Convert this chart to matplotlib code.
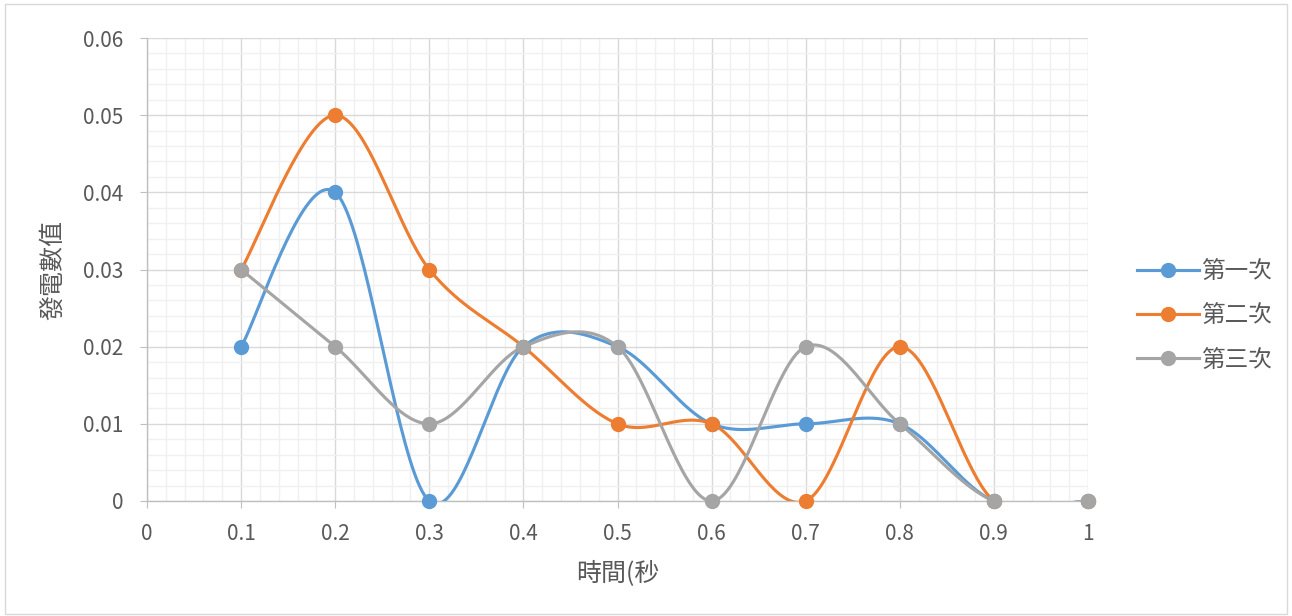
import matplotlib
matplotlib.use("Agg")
import matplotlib.pyplot as plt
import numpy as np
from matplotlib.ticker import MultipleLocator, FuncFormatter

plt.rcParams['font.family'] = ['Noto Sans CJK TC', 'DejaVu Sans']

x = [0.1, 0.2, 0.3, 0.4, 0.5, 0.6, 0.7, 0.8, 0.9, 1.0]
first = [0.02, 0.04, 0.0, 0.02, 0.02, 0.01, 0.01, 0.01, 0.0, 0.0]
second = [0.03, 0.05, 0.03, 0.02, 0.01, 0.01, 0.0, 0.02, 0.0, 0.0]
third = [0.03, 0.02, 0.01, 0.02, 0.02, 0.0, 0.02, 0.01, 0.0, 0.0]
names = ['第一次', '第二次', '第三次']
colors = ['#5B9BD5', '#ED7D31', '#A5A5A5']


def smooth(xs, ys, n=40):
    # Excel-like smoothed line: cubic Bezier with Catmull-Rom control points
    p = np.column_stack([xs, ys])
    ext = np.vstack([p[0], p, p[-1]])
    out = []
    t = np.linspace(0, 1, n)[:, None]
    for i in range(1, len(ext) - 2):
        p0, p1, p2, p3 = ext[i - 1], ext[i], ext[i + 1], ext[i + 2]
        c1 = p1 + (p2 - p0) / 6
        c2 = p2 - (p3 - p1) / 6
        seg = ((1 - t) ** 3) * p1 + 3 * ((1 - t) ** 2) * t * c1 + 3 * (1 - t) * t ** 2 * c2 + t ** 3 * p2
        out.append(seg)
    out = np.vstack(out)
    return out[:, 0], out[:, 1]


fig = plt.figure(figsize=(12.92, 6.16), dpi=100)
ax = fig.add_axes([0.1138, 0.1867, 0.7283, 0.7516])

for ys, name, c in zip([first, second, third], names, colors):
    sx, sy = smooth(x, ys)
    ax.plot(sx, sy, color=c, lw=2.25, solid_capstyle='round', zorder=3)
    ax.plot(x, ys, 'o', color=c, ms=10, zorder=4, clip_on=False)
    ax.plot([], [], '-o', color=c, lw=2.25, ms=10, label=name)

ax.set_xlim(0, 1)
ax.set_ylim(0, 0.06)
ax.xaxis.set_major_locator(MultipleLocator(0.1))
ax.xaxis.set_minor_locator(MultipleLocator(0.02))
ax.yaxis.set_major_locator(MultipleLocator(0.01))
ax.yaxis.set_minor_locator(MultipleLocator(0.002))
fmt = FuncFormatter(lambda v, p: ('%g' % round(v, 4)))
ax.xaxis.set_major_formatter(fmt)
ax.yaxis.set_major_formatter(fmt)

ax.grid(which='minor', color='#F0F0F0', lw=1.0, zorder=0)
ax.grid(which='major', color='#D9D9D9', lw=1.0, zorder=1)
ax.set_axisbelow(True)
for s in ['top', 'right']:
    ax.spines[s].set_visible(False)
for s in ['left', 'bottom']:
    ax.spines[s].set_color('#BFBFBF')
    ax.spines[s].set_linewidth(1.0)
ax.tick_params(which='major', length=5, color='#BFBFBF', labelcolor='#595959',
               labelsize=15)
ax.tick_params(axis='x', pad=11)
ax.tick_params(axis='y', pad=12)
ax.tick_params(which='minor', length=0)

ax.set_xlabel('時間(秒', fontsize=18, color='#595959', labelpad=11)
ax.set_ylabel('發電數值', fontsize=18, color='#595959', labelpad=12)

leg = ax.legend(loc='center left', bbox_to_anchor=(1.03, 0.4), frameon=False,
                fontsize=17, labelspacing=0.9, handlelength=2.6,
                handletextpad=0.15, labelcolor='#595959')

fig.patches.append(plt.Rectangle((0.004, 0.004), 0.992, 0.99, transform=fig.transFigure,
                                 fill=False, edgecolor='#D9D9D9', lw=1))

fig.savefig('out.png', dpi=100)
